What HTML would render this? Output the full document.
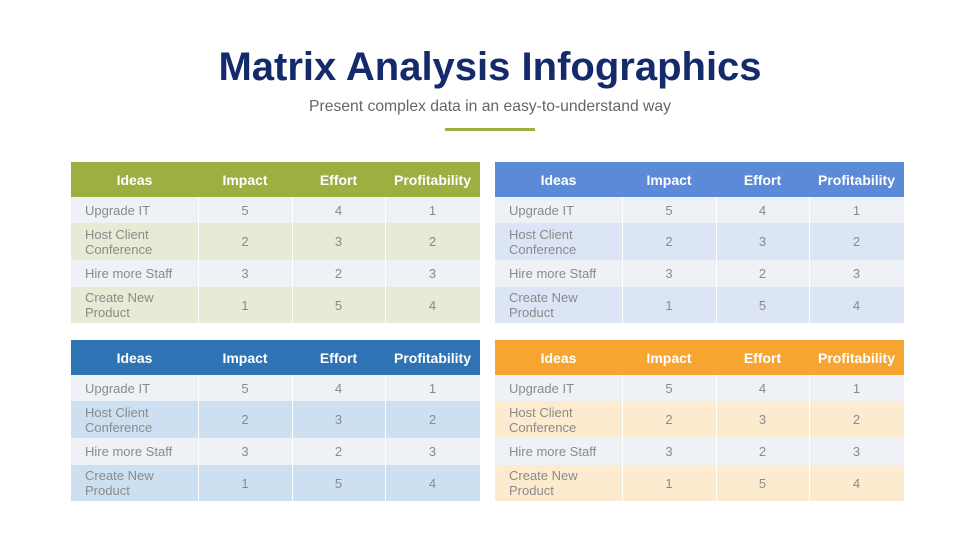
<!DOCTYPE html>
<html><head><style>
body{margin:0;width:980px;height:551px;background:#fff;font-family:"Liberation Sans",sans-serif;position:relative;overflow:hidden}
h1{position:absolute;top:45px;left:0;width:980px;text-align:center;margin:0;font-size:40px;font-weight:bold;color:#142a6b}
.sub{position:absolute;top:98px;left:0;width:980px;text-align:center;font-size:15.7px;color:#666}
.bar{position:absolute;top:128px;left:445px;width:90px;height:3px;background:#9bb040}
table{position:absolute;border-collapse:collapse;width:409px;table-layout:fixed}
td,th{padding:0;font-size:13px;color:#8a8a8a;text-align:center}
th{height:35px;color:#fff;font-size:14px;font-weight:bold}
td:first-child{text-align:left;padding-left:14px;line-height:15px}
tr.a td{height:26px;background:#eef2f6}
tr.b td{height:37px}
tr.c td{height:27px;background:#eef2f6}
tr.d td{height:36px}
td{border-right:1px solid #fff}
</style></head><body>
<h1>Matrix Analysis Infographics</h1>
<div class="sub">Present complex data in an easy-to-understand way</div>
<div class="bar"></div>

<table style="left:71px;top:162px">
<colgroup><col style="width:127px"><col style="width:94px"><col style="width:93px"><col style="width:95px"></colgroup>
<tr style="background:#9bb040"><th>Ideas</th><th>Impact</th><th>Effort</th><th>Profitability</th></tr>
<tr class="a"><td>Upgrade IT</td><td>5</td><td>4</td><td>1</td></tr>
<tr class="b" style="background:#e6ebd6"><td>Host Client<br>Conference</td><td>2</td><td>3</td><td>2</td></tr>
<tr class="c"><td>Hire more Staff</td><td>3</td><td>2</td><td>3</td></tr>
<tr class="d" style="background:#e6ebd6"><td>Create New<br>Product</td><td>1</td><td>5</td><td>4</td></tr>
</table>

<table style="left:495px;top:162px">
<colgroup><col style="width:127px"><col style="width:94px"><col style="width:93px"><col style="width:95px"></colgroup>
<tr style="background:#5b8bd8"><th>Ideas</th><th>Impact</th><th>Effort</th><th>Profitability</th></tr>
<tr class="a"><td>Upgrade IT</td><td>5</td><td>4</td><td>1</td></tr>
<tr class="b" style="background:#dce5f5"><td>Host Client<br>Conference</td><td>2</td><td>3</td><td>2</td></tr>
<tr class="c"><td>Hire more Staff</td><td>3</td><td>2</td><td>3</td></tr>
<tr class="d" style="background:#dce5f5"><td>Create New<br>Product</td><td>1</td><td>5</td><td>4</td></tr>
</table>

<table style="left:71px;top:340px">
<colgroup><col style="width:127px"><col style="width:94px"><col style="width:93px"><col style="width:95px"></colgroup>
<tr style="background:#2e74b5"><th>Ideas</th><th>Impact</th><th>Effort</th><th>Profitability</th></tr>
<tr class="a"><td>Upgrade IT</td><td>5</td><td>4</td><td>1</td></tr>
<tr class="b" style="background:#cde0f2"><td>Host Client<br>Conference</td><td>2</td><td>3</td><td>2</td></tr>
<tr class="c"><td>Hire more Staff</td><td>3</td><td>2</td><td>3</td></tr>
<tr class="d" style="background:#cde0f2"><td>Create New<br>Product</td><td>1</td><td>5</td><td>4</td></tr>
</table>

<table style="left:495px;top:340px">
<colgroup><col style="width:127px"><col style="width:94px"><col style="width:93px"><col style="width:95px"></colgroup>
<tr style="background:#f7a531"><th>Ideas</th><th>Impact</th><th>Effort</th><th>Profitability</th></tr>
<tr class="a"><td>Upgrade IT</td><td>5</td><td>4</td><td>1</td></tr>
<tr class="b" style="background:#fdebd0"><td>Host Client<br>Conference</td><td>2</td><td>3</td><td>2</td></tr>
<tr class="c"><td>Hire more Staff</td><td>3</td><td>2</td><td>3</td></tr>
<tr class="d" style="background:#fdebd0"><td>Create New<br>Product</td><td>1</td><td>5</td><td>4</td></tr>
</table>
</body></html>
